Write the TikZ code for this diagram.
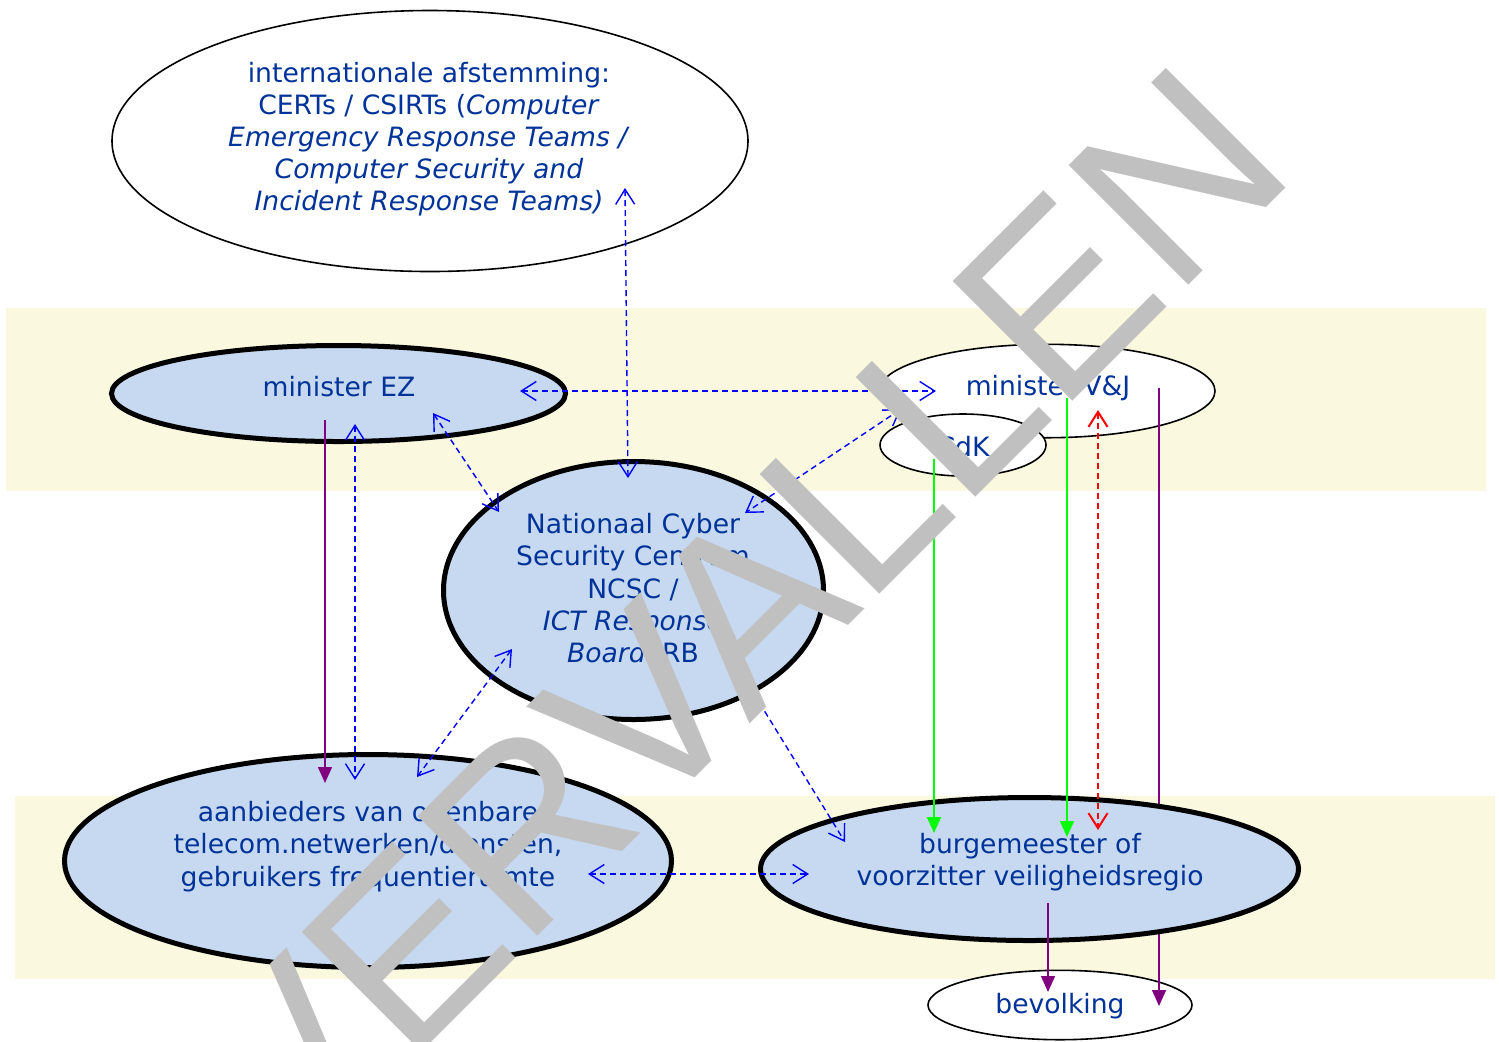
\documentclass[tikz,border=0pt]{standalone}
\usepackage{fontspec}
\setmainfont{DejaVu Sans}
\newfontfamily\wmfont{Liberation Sans}
\usetikzlibrary{shapes.geometric,arrows.meta}
\definecolor{band}{RGB}{250,248,222}
\definecolor{ellfill}{RGB}{198,217,240}
\definecolor{txt}{RGB}{0,51,153}
\definecolor{wmgray}{RGB}{192,192,192}
\definecolor{purp}{RGB}{128,0,128}
\definecolor{grn}{RGB}{0,255,0}
\tikzset{
  ellbase/.style={ellipse, inner sep=0pt, outer sep=0pt},
  thickell/.style={ellbase, draw=black, line width=2.5pt, fill=ellfill},
  thinell/.style={ellbase, draw=black, line width=0.8pt, fill=white},
  lbl/.style={text=txt, font=\fontsize{13.3}{16.1}\selectfont, align=center, inner sep=0pt},
  openhead/.style={{Straight Barb[length=7.5pt,width=9.5pt]}-{Straight Barb[length=7.5pt,width=9.5pt]}},
  bluedash/.style={draw=blue, line width=0.7pt, dash pattern=on 3pt off 2pt, openhead},
  reddash/.style={draw=red, line width=1pt, dash pattern=on 3pt off 2pt, openhead},
  solidarr/.style={line width=0.75pt, -{Triangle[length=8pt,width=7pt]}},
  wmtext/.style={text=wmgray, font=\wmfont\fontsize{123}{123}\selectfont, inner sep=0pt, rotate=45}
}
\begin{document}
\begin{tikzpicture}[x=0.5pt,y=-0.5pt]
\useasboundingbox (0,0) rectangle (1499,1041);
% bands
\fill[band] (6,308) rectangle (1486,491);
\fill[band] (15,796) rectangle (1495,979);
% ellipses
\node[thinell, minimum width=318pt, minimum height=130.5pt] (intl) at (430,141) {};
\node[thickell, minimum width=227pt, minimum height=48pt] (ez) at (338.5,393.5) {};
\node[thinell, minimum width=168pt, minimum height=46.7pt] (vj) at (1047,391) {};
\node[thinell, minimum width=83pt, minimum height=31pt] (cdk) at (963,445) {};
\node[thickell, minimum width=190pt, minimum height=129pt] (ncsc) at (633.5,590.5) {};
\node[thickell, minimum width=303.5pt, minimum height=106.5pt] (aanb) at (368,861) {};
\node[thinell, minimum width=132pt, minimum height=34.7pt] (bev) at (1060,1005) {};
% purple line behind burgemeester
\coordinate (p13a) at (1159,388);
\coordinate (p13b) at (1159,1006);
\draw[solidarr, purp] (p13a) -- (p13b);
\node[thickell, minimum width=269pt, minimum height=71.5pt] (burg) at (1029.5,869) {};
% texts
\node[lbl, anchor=north] (intlT) at (429,61.5) {internationale afstemming:\\CERTs / CSIRTs (\textit{Computer}\\\textit{Emergency Response Teams /}\\\textit{Computer Security and}\\\textit{Incident Response Teams)}};
\node[lbl, anchor=base] (ezT) at (339,396) {minister EZ};
\node[lbl, anchor=base] (vjT) at (1048,395) {minister V\&J};
\node[lbl, anchor=base] (cdkT) at (963,456) {CdK};
\node[lbl, anchor=north] (ncscT) at (633,513) {Nationaal Cyber\\Security Centrum\\NCSC /\\\textit{ICT Response}\\\textit{Board} IRB};
\node[lbl, anchor=north] (aanbT) at (368,801) {aanbieders van openbare\\telecom.netwerken/diensten,\\gebruikers frequentieruimte};
\node[lbl, anchor=north] (burgT) at (1030,833) {burgemeester of\\voorzitter veiligheidsregio};
\node[lbl, anchor=base] (bevT) at (1060,1013) {bevolking};
% connector end points
\coordinate (c1a) at (625,188);  \coordinate (c1b) at (628,478);
\coordinate (c2a) at (520,391);  \coordinate (c2b) at (936,391);
\coordinate (c3a) at (433,413);  \coordinate (c3b) at (499,512);
\coordinate (c4a) at (901,409);  \coordinate (c4b) at (745,513);
\coordinate (c5a) at (355,424);  \coordinate (c5b) at (355,780);
\coordinate (c6a) at (325,420);  \coordinate (c6b) at (325,783);
\coordinate (c7a) at (512,649);  \coordinate (c7b) at (417,777);
\coordinate (c8a) at (727,650);  \coordinate (c8b) at (845,842);
\coordinate (c9a) at (588,874);  \coordinate (c9b) at (809,874);
\coordinate (c10a) at (934,459); \coordinate (c10b) at (934,833);
\coordinate (c11a) at (1067,398); \coordinate (c11b) at (1067,837);
\coordinate (c12a) at (1098,410); \coordinate (c12b) at (1098,830);
\coordinate (c14a) at (1048,903); \coordinate (c14b) at (1048,992);
% connectors
\draw[bluedash] (c1a) -- (c1b);
\draw[bluedash] (c2a) -- (c2b);
\draw[bluedash] (c3a) -- (c3b);
\draw[bluedash] (c4a) -- (c4b);
\draw[bluedash] (c5a) -- (c5b);
\draw[solidarr, purp] (c6a) -- (c6b);
\draw[bluedash] (c7a) -- (c7b);
\draw[bluedash] (c8a) -- (c8b);
\draw[bluedash] (c9a) -- (c9b);
\draw[solidarr, grn] (c10a) -- (c10b);
\draw[solidarr, grn] (c11a) -- (c11b);
\draw[reddash] (c12a) -- (c12b);
\draw[solidarr, purp] (c14a) -- (c14b);
% watermark
\node[wmtext] (wm) at (736,618) {VERVALLEN};
\end{tikzpicture}
\end{document}
